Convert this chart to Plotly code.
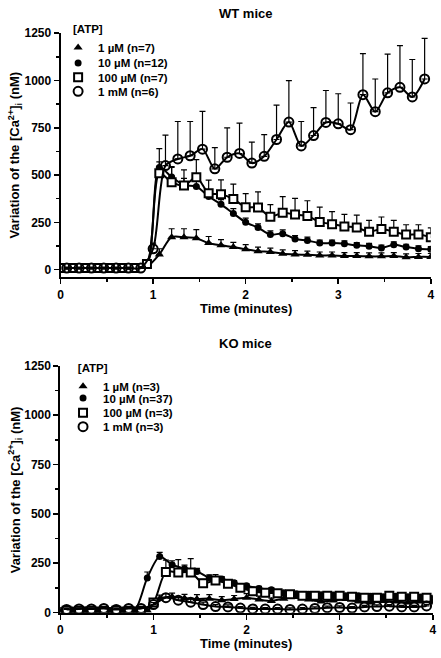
import plotly.graph_objects as go

# ---------------- data ----------------
# sampling times (seconds); two interleaved 8-s grids
T_EVEN_S = [0, 8, 16, 24, 32, 40, 48, 56, 64, 72, 80, 88, 96, 104, 112, 120,
            128, 136, 144, 152, 160, 168, 176, 184, 192, 200, 208, 216, 224, 232, 240]
T_ODD_S = [4, 12, 20, 28, 36, 44, 52, 60, 68, 76, 84, 92, 100, 108, 116, 124,
           132, 140, 148, 156, 164, 172, 180, 188, 196, 204, 212, 220, 228, 236]

LEGEND_WT = ["1 µM (n=7)", "10 µM (n=12)", "100 µM (n=7)", "1 mM (n=6)"]
LEGEND_KO = ["1 µM (n=3)", "10 µM (n=37)", "100 µM (n=3)", "1 mM (n=3)"]

# WT mice
wt_1uM = [5, 6, 5, 6, 5, 6, 7, 15, 80, 171, 171, 166, 140, 128, 119, 107, 97, 93, 84,
          80, 78, 75, 75, 72, 72, 70, 70, 72, 65, 67, 67]
wt_1uM_err = [4, 4, 4, 4, 4, 4, 4, 8, 30, 45, 45, 45, 35, 30, 25, 25, 22, 20, 20, 20,
              20, 18, 18, 18, 18, 18, 18, 18, 18, 18, 18]
wt_10uM = [5, 5, 6, 5, 6, 5, 6, 25, 540, 490, 447, 440, 387, 345, 297, 250, 222, 185,
           190, 162, 154, 140, 140, 136, 128, 123, 114, 131, 119, 110, 107]
wt_10uM_err = [4, 4, 4, 4, 4, 4, 4, 10, 100, 50, 35, 30, 30, 25, 25, 22, 20, 20, 20,
               18, 18, 16, 16, 16, 15, 15, 15, 15, 15, 15, 15]
wt_100uM = [8, 8, 8, 8, 8, 8, 8, 30, 510, 462, 444, 488, 404, 398, 373, 330, 328, 280,
            300, 291, 283, 252, 240, 228, 222, 200, 214, 200, 185, 185, 171]
wt_100uM_err = [5, 5, 5, 5, 5, 5, 5, 15, 60, 83, 83, 93, 69, 76, 79, 72, 83, 64, 86, 86,
                81, 78, 66, 64, 66, 60, 64, 60, 52, 52, 50]
wt_1mM = [8, 8, 8, 8, 8, 8, 8, 110, 550, 585, 602, 637, 533, 594, 614, 563, 599, 688,
          780, 654, 709, 778, 771, 740, 925, 835, 935, 964, 913, 1008]
wt_1mM_err = [5, 5, 5, 5, 5, 5, 5, 30, 161, 198, 181, 200, 112, 155, 161, 111, 115, 182,
              219, 129, 147, 169, 159, 141, 217, 173, 205, 220, 198, 215]

# KO mice
ko_1uM = [8, 8, 8, 8, 8, 8, 8, 10, 70, 80, 72, 68, 70, 62, 68, 75, 65, 58, 70, 78, 65,
          55, 60, 68, 55, 50, 58, 55, 50, 55, 50]
ko_1uM_err = [4, 4, 4, 4, 4, 4, 4, 5, 18, 18, 20, 22, 20, 18, 18, 20, 18, 15, 18, 18,
              15, 15, 15, 15, 15, 15, 15, 15, 15, 15, 15]
ko_10uM = [10, 12, 14, 12, 10, 12, 14, 175, 283, 242, 222, 208, 175, 170, 150, 135, 122,
           115, 100, 95, 92, 90, 88, 85, 85, 82, 80, 82, 80, 78, 72]
ko_10uM_err = [4, 4, 4, 4, 4, 4, 4, 30, 22, 20, 18, 15, 15, 12, 12, 10, 10, 10, 10, 10,
               10, 8, 8, 8, 8, 8, 8, 8, 8, 8, 8]
ko_100uM = [8, 8, 8, 8, 8, 8, 8, 50, 205, 203, 203, 148, 162, 145, 125, 108, 100, 97,
            92, 84, 84, 84, 84, 79, 75, 75, 84, 79, 79, 75]
ko_100uM_err = [4, 4, 4, 4, 4, 4, 4, 10, 60, 65, 70, 20, 30, 20, 12, 10, 10, 10, 10, 10,
                10, 10, 10, 10, 10, 10, 10, 10, 10, 10]
ko_1mM = [15, 18, 18, 20, 15, 20, 20, 40, 75, 62, 52, 40, 30, 28, 22, 18, 17, 17, 15, 17,
          20, 24, 25, 22, 28, 30, 32, 28, 28, 33]
ko_1mM_err = [5, 5, 5, 5, 5, 5, 5, 10, 20, 15, 15, 12, 10, 10, 8, 8, 8, 8, 8, 8, 8, 8,
              8, 8, 8, 8, 8, 8, 8, 8]

X_TICKS = [0, 1, 2, 3, 4]
Y_TICKS = [0, 250, 500, 750, 1000, 1250]

# ---------------- styling ----------------
FONT = "Liberation Sans, Arial, Helvetica, sans-serif"
W, H = 441, 658


def fx(px):
    return px / W


def fy(py):
    return 1 - py / H


STYLES = [  # 1 µM, 10 µM, 100 µM, 1 mM
    dict(symbol="triangle-up", size=8, color="black", line=dict(color="black", width=0)),
    dict(symbol="circle", size=7, color="black", line=dict(color="black", width=0)),
    dict(symbol="square", size=8, color="white", line=dict(color="black", width=2)),
    dict(symbol="circle-open", size=9, color="black", line=dict(color="black", width=2)),
]

fig = go.Figure()


def add_series(t_s, y, err, style, xa, ya):
    fig.add_trace(go.Scatter(
        x=[v / 60 for v in t_s], y=y, mode="lines+markers",
        line=dict(color="black", width=2, shape="spline", smoothing=0.8),
        marker=style,
        error_y=dict(type="data", symmetric=False, array=err,
                     arrayminus=[0] * len(err), color="black", thickness=1.2, width=3),
        xaxis=xa, yaxis=ya, showlegend=False, hoverinfo="skip"))


panels = [
    ("x", "y", ["legend", "legend2", "legend3", "legend4"],
     [(T_EVEN_S, wt_1uM, wt_1uM_err), (T_EVEN_S, wt_10uM, wt_10uM_err),
      (T_EVEN_S, wt_100uM, wt_100uM_err), (T_ODD_S, wt_1mM, wt_1mM_err)], LEGEND_WT),
    ("x2", "y2", ["legend5", "legend6", "legend7", "legend8"],
     [(T_EVEN_S, ko_1uM, ko_1uM_err), (T_EVEN_S, ko_10uM, ko_10uM_err),
      (T_ODD_S, ko_100uM, ko_100uM_err), (T_ODD_S, ko_1mM, ko_1mM_err)], LEGEND_KO),
]

for xa, ya, legs, series, names in panels:
    for (t_s, y, err), st in zip(series, STYLES):
        add_series(t_s, y, err, st, xa, ya)
    for name, st, leg in zip(names, STYLES, legs):
        fig.add_trace(go.Scatter(
            x=[None], y=[None], mode="markers", marker=st, name=name,
            legend=leg, xaxis=xa, yaxis=ya, showlegend=True))

tickfont = dict(family=FONT, size=12, color="black", weight="bold")


def xaxis(domain, anchor):
    return dict(domain=domain, anchor=anchor, range=[0, 4], tickvals=X_TICKS,
                ticks="outside", ticklen=5, tickwidth=1.5, tickcolor="black",
                showline=True, linewidth=2, linecolor="black", showgrid=False,
                zeroline=False, tickfont=tickfont, fixedrange=True,
                ticklabeloverflow="allow",
                minor=dict(dtick=0.5, ticks="outside", ticklen=3, tickwidth=1.5,
                           tickcolor="black", showgrid=False))


def yaxis(domain, anchor, rng):
    return dict(domain=domain, anchor=anchor, range=rng, tickvals=Y_TICKS,
                ticks="outside", ticklen=5, tickwidth=1.5, tickcolor="black",
                showline=True, linewidth=2, linecolor="black", showgrid=False,
                zeroline=False, tickfont=tickfont, fixedrange=True,
                ticklabeloverflow="allow",
                minor=dict(dtick=125, tick0=0, ticks="outside", ticklen=3, tickwidth=1.5,
                           tickcolor="black", showgrid=False))


legfont = dict(family=FONT, size=11.5, color="black", weight="bold")


def legend_box(left_px, top_px, title=None):
    d = dict(x=fx(left_px), y=fy(top_px), xanchor="left", yanchor="top",
             bgcolor="rgba(0,0,0,0)", font=legfont, itemwidth=30)
    if title:
        d["title"] = dict(text=title, font=legfont)
    return d


FIRST_OFF = 33    # legend top (with title) -> first item centre
ITEM_OFF = 17     # legend top (no title) -> item centre
ATP = "\u00a0\u00a0\u00a0\u00a0[ATP]"

wt_items = [44.3, 59.3, 74.0, 88.3]
ko_items = [387.3, 401.7, 416.7, 431.0]

fig.update_layout(
    width=W, height=H, autosize=False,
    margin=dict(l=0, r=0, t=0, b=0),
    paper_bgcolor="white", plot_bgcolor="white",
    font=dict(family=FONT, color="black"),
    xaxis=xaxis([fx(58.5), fx(434.7)], "y"),
    yaxis=yaxis([fy(276), fy(26.8)], "x", [-40, 1250]),
    xaxis2=xaxis([fx(58.3), fx(436.7)], "y2"),
    yaxis2=yaxis([fy(619), fy(366.7)], "x2", [-2, 1250]),
    legend=legend_box(56, wt_items[0] - FIRST_OFF, ATP),
    legend2=legend_box(56, wt_items[1] - ITEM_OFF),
    legend3=legend_box(56, wt_items[2] - ITEM_OFF),
    legend4=legend_box(56, wt_items[3] - ITEM_OFF),
    legend5=legend_box(61, ko_items[0] - FIRST_OFF + 3, ATP),
    legend6=legend_box(61, ko_items[1] - ITEM_OFF),
    legend7=legend_box(61, ko_items[2] - ITEM_OFF),
    legend8=legend_box(61, ko_items[3] - ITEM_OFF),
    showlegend=True,
)

title_font = dict(family=FONT, size=13, color="black", weight="bold")
ytitle = "Variation of the [Ca<sup>2+</sup>]<sub>i</sub> (nM)"
ann = [
    dict(text="WT mice", x=fx(246.7), y=1, yanchor="top", yshift=3),
    dict(text="KO mice", x=fx(246.7), y=fy(343.5), yanchor="middle"),
    dict(text="Time (minutes)", x=fx(246.7), y=fy(308), yanchor="middle"),
    dict(text="Time (minutes)", x=fx(246.7), y=fy(650.5), yanchor="middle"),
    dict(text=ytitle, x=fx(12), y=fy(151), textangle=-90, yanchor="middle"),
    dict(text=ytitle, x=fx(12), y=fy(493), textangle=-90, yanchor="middle"),
]
for a in ann:
    fig.add_annotation(xref="paper", yref="paper", xanchor="center",
                       showarrow=False, font=title_font, **a)

fig.write_html("out.html",
               config={"displayModeBar": False, "staticPlot": True},
               post_script="document.body.style.margin='0px';"
                           "document.body.style.overflow='hidden';")
